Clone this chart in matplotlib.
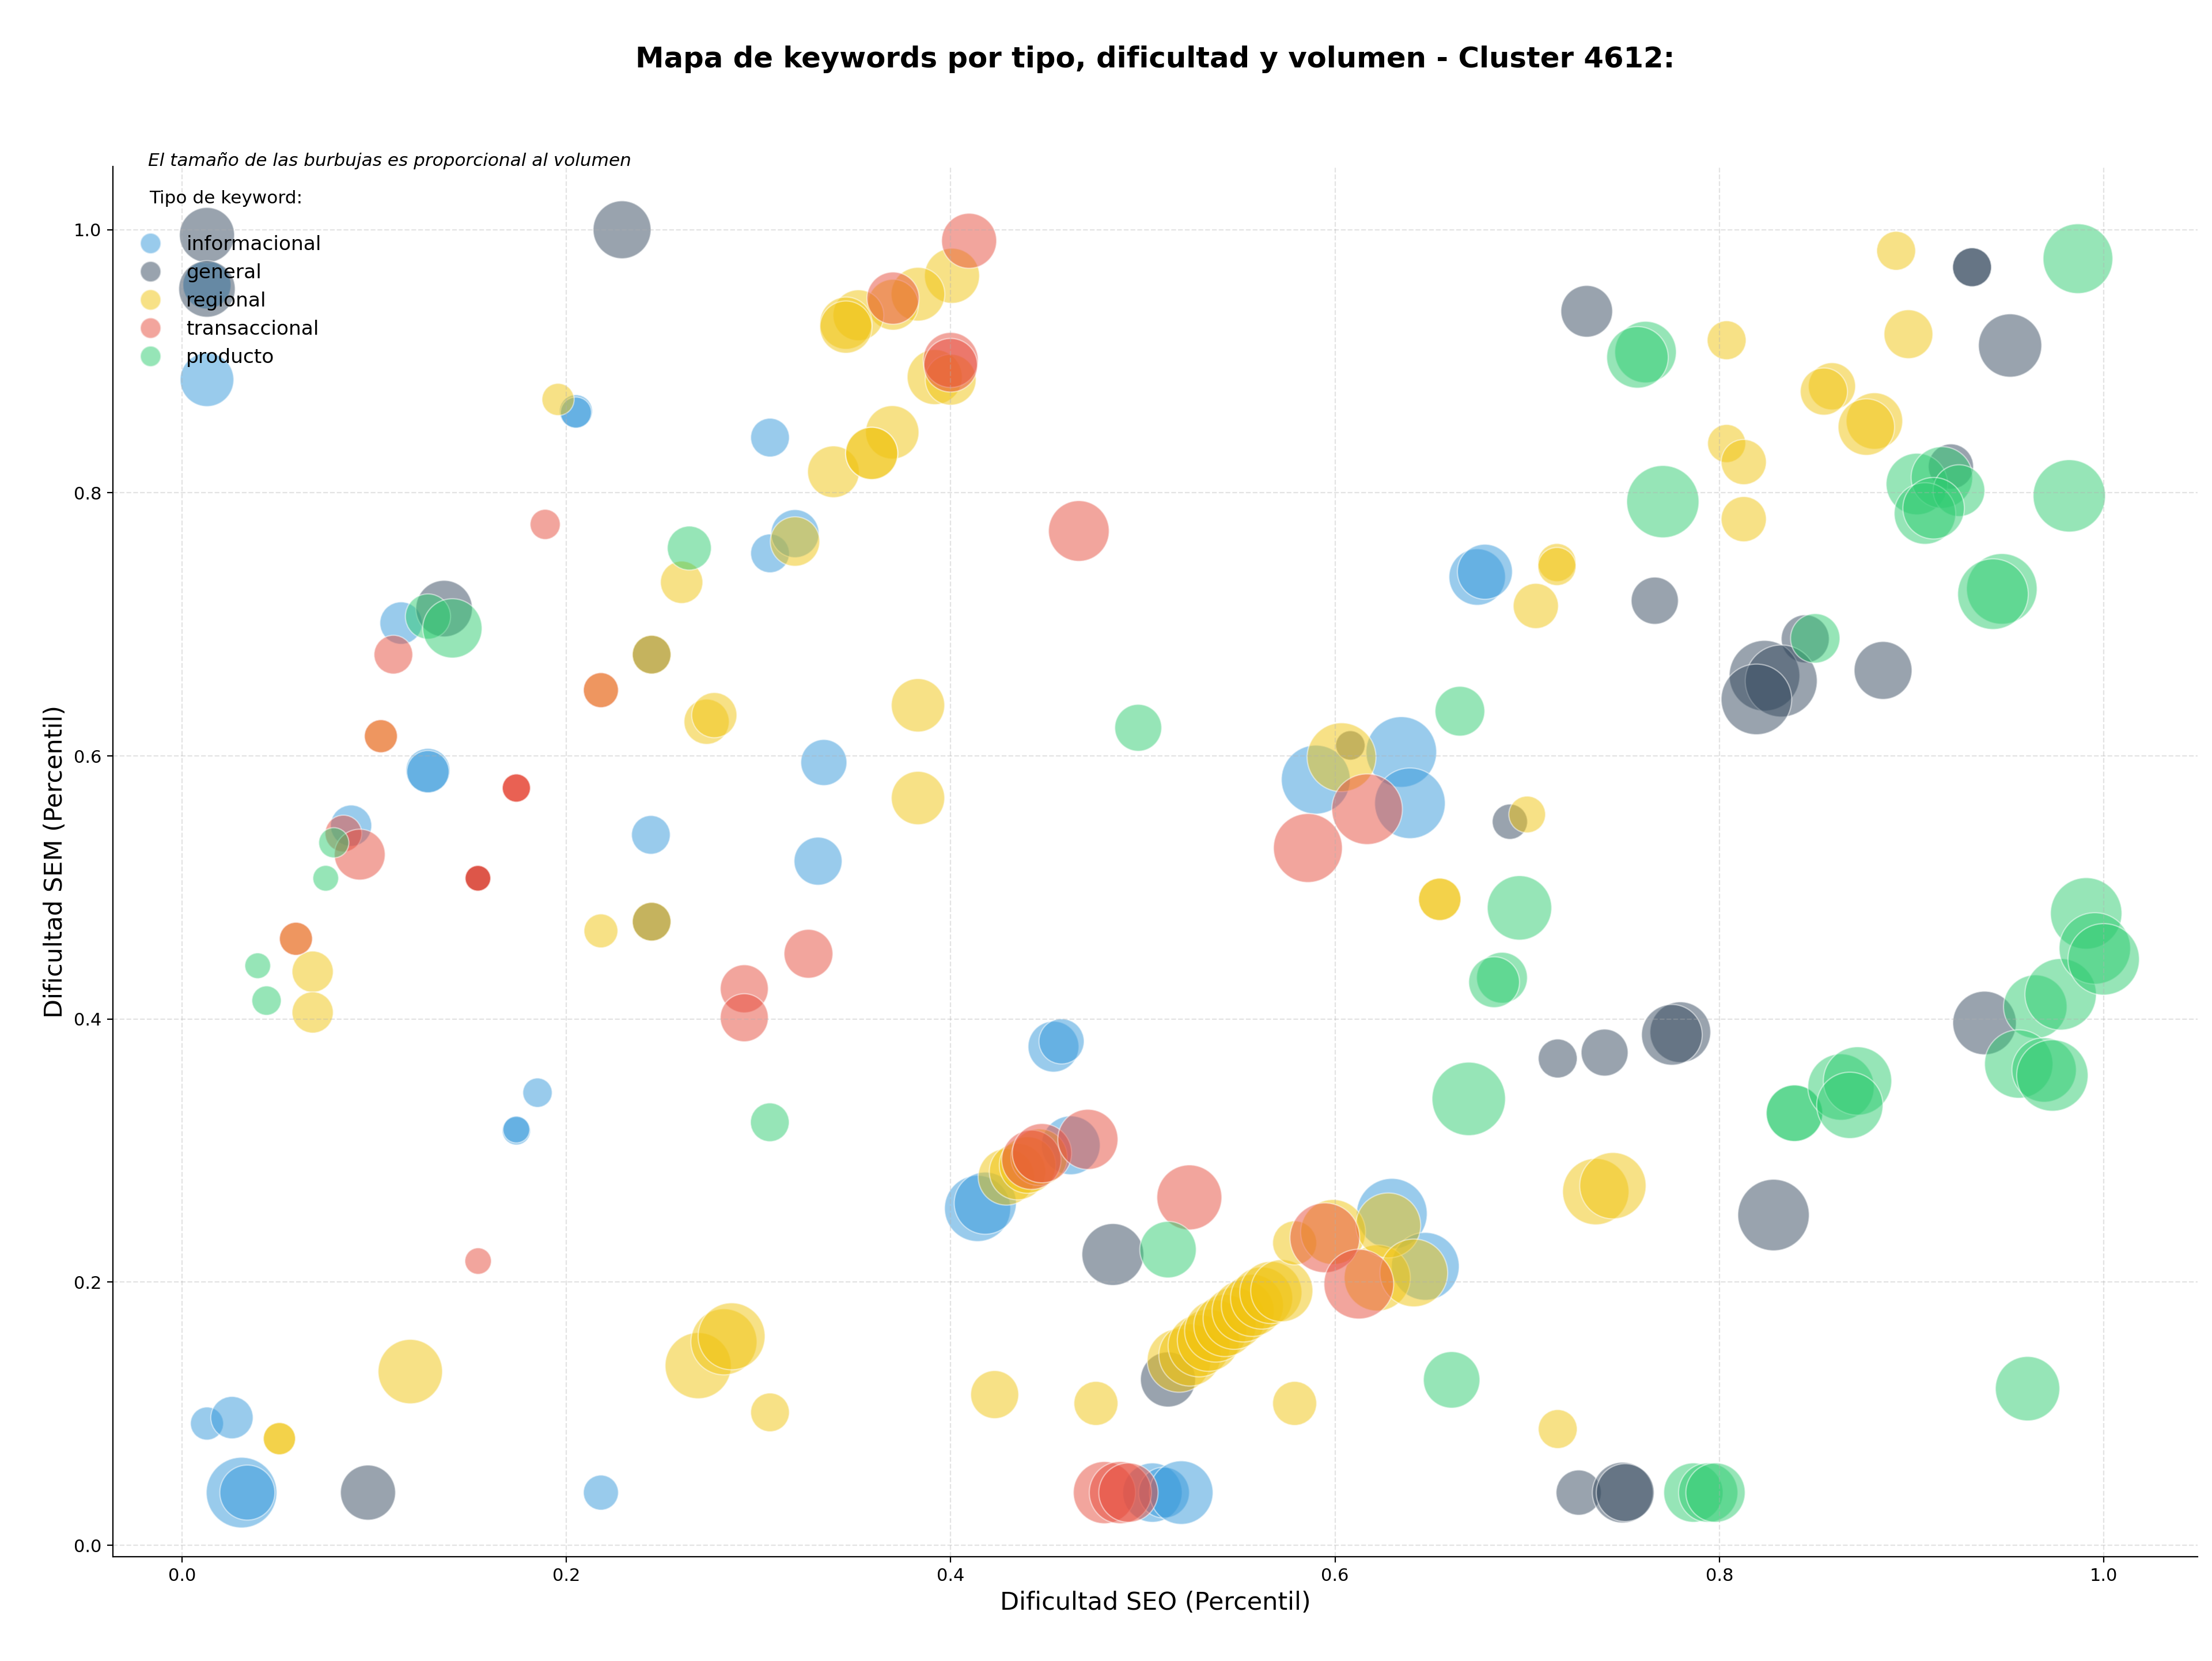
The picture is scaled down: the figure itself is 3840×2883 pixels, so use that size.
import matplotlib
matplotlib.use("Agg")
import matplotlib.pyplot as plt
from matplotlib.lines import Line2D

# tipos de keyword y colores
tipos = ["informacional", "general", "regional", "transaccional", "producto"]
colores = ["#3498db", "#34495e", "#f1c40f", "#e74c3c", "#2ecc71"]

# informacional: dificultad SEO, dificultad SEM, volumen
info_seo = [0.013, 0.013, 0.205, 0.205, 0.306, 0.306, 0.319, 0.114, 0.128, 0.128,
            0.334, 0.088, 0.244, 0.331, 0.185, 0.174, 0.174, 0.013, 0.026, 0.031,
            0.034, 0.218, 0.674, 0.678, 0.590, 0.6345, 0.639, 0.4535, 0.4577, 0.414,
            0.418, 0.4625, 0.505, 0.511, 0.520, 0.6296, 0.647]
info_sem = [0.958, 0.886, 0.862, 0.861, 0.842, 0.754, 0.769, 0.701, 0.589, 0.588,
            0.595, 0.547, 0.540, 0.520, 0.344, 0.315, 0.316, 0.0925, 0.097, 0.04,
            0.04, 0.04, 0.736, 0.740, 0.582, 0.603, 0.564, 0.379, 0.383, 0.256,
            0.260, 0.304, 0.04, 0.04, 0.04, 0.252, 0.212]
info_vol = [2890, 3610, 1370, 1210, 1880, 1880, 2890, 2250, 2430, 2250,
            2660, 2130, 1880, 2890, 1080, 1000, 900, 1370, 2250, 6250,
            3800, 1540, 4000, 3800, 5950, 6250, 6250, 3240, 2560, 5480,
            4840, 4330, 4410, 3240, 5060, 6250, 5760]

# general
gen_seo = [0.013, 0.013, 0.229, 0.1364, 0.2444, 0.2444, 0.154, 0.0968, 0.4844, 0.5131,
           0.608, 0.691, 0.731, 0.9315, 0.9315, 0.9513, 0.9205, 0.7664, 0.8447, 0.8235,
           0.8322, 0.8193, 0.8852, 0.7159, 0.7403, 0.7797, 0.7753, 0.8282, 0.938, 0.7268,
           0.7497, 0.751]
gen_sem = [0.996, 0.955, 1.0, 0.712, 0.677, 0.474, 0.507, 0.04, 0.221, 0.126,
           0.608, 0.550, 0.938, 0.9715, 0.9715, 0.912, 0.820, 0.718, 0.689, 0.661,
           0.657, 0.643, 0.665, 0.370, 0.3745, 0.390, 0.388, 0.251, 0.397, 0.04,
           0.04, 0.04]
gen_vol = [3800, 4000, 4200, 4000, 1880, 1880, 830, 3800, 4800, 3800,
           1080, 1560, 3350, 1900, 1900, 5020, 2560, 2790, 2890, 6250,
           6500, 6250, 4200, 1900, 2760, 4620, 4620, 6400, 5060, 2560,
           4620, 4200]

# regional
reg_seo = [0.1957, 0.339, 0.319, 0.260, 0.2444, 0.218, 0.273, 0.277, 0.1035, 0.218,
           0.2444, 0.0593, 0.068, 0.068, 0.1188, 0.2686, 0.282, 0.286, 0.306, 0.0507,
           0.0507, 0.4007, 0.383, 0.370, 0.352, 0.3455, 0.3455, 0.3917, 0.400, 0.3696,
           0.3589, 0.3589, 0.383, 0.383, 0.6034, 0.700, 0.7045, 0.7155, 0.7155, 0.892,
           0.8038, 0.8984, 0.8586, 0.8544, 0.8807, 0.8765, 0.8038, 0.8127, 0.8127, 0.6545,
           0.6545, 0.7357, 0.7446, 0.7159, 0.429, 0.4348, 0.440, 0.446, 0.5188, 0.5245,
           0.5293, 0.5341, 0.5379, 0.5427, 0.5475, 0.5522, 0.557, 0.5618, 0.5666, 0.5723,
           0.579, 0.599, 0.622, 0.6277, 0.641, 0.4229, 0.4756, 0.579]
reg_sem = [0.871, 0.816, 0.763, 0.732, 0.677, 0.650, 0.626, 0.631, 0.615, 0.467,
           0.474, 0.461, 0.436, 0.405, 0.132, 0.1365, 0.1546, 0.1588, 0.101, 0.081,
           0.081, 0.965, 0.951, 0.943, 0.935, 0.929, 0.926, 0.888, 0.886, 0.846,
           0.830, 0.830, 0.6385, 0.568, 0.599, 0.5555, 0.714, 0.747, 0.744, 0.984,
           0.916, 0.9206, 0.881, 0.877, 0.8546, 0.850, 0.8375, 0.8234, 0.780, 0.491,
           0.491, 0.2688, 0.2733, 0.0883, 0.280, 0.284, 0.289, 0.295, 0.1404, 0.1446,
           0.1516, 0.1558, 0.1628, 0.167, 0.1725, 0.1781, 0.1823, 0.1879, 0.1921, 0.1935,
           0.2298, 0.2381, 0.2032, 0.2431, 0.207, 0.1145, 0.1078, 0.1078]
reg_vol = [1300, 3350, 3060, 2250, 1880, 1540, 2560, 2560, 1370, 1440,
           1880, 1370, 2130, 2130, 5200, 5480, 5480, 5620, 1880, 1300,
           1300, 3800, 3610, 3240, 3240, 3420, 3420, 3800, 3240, 3570,
           3420, 3420, 3570, 3570, 5950, 1690, 2560, 1820, 1820, 1900,
           1900, 2990, 2790, 2790, 4000, 4000, 1820, 2560, 2560, 2250,
           2250, 5520, 5520, 1900, 4000, 4000, 4000, 4000, 5060, 4840,
           4840, 4840, 4840, 4840, 4840, 4840, 4840, 4840, 4840, 4840,
           2430, 5290, 5480, 5290, 5760, 2890, 2430, 2430]

# transaccional
tra_seo = [0.189, 0.110, 0.218, 0.1035, 0.174, 0.174, 0.174, 0.084, 0.0925, 0.154,
           0.154, 0.154, 0.0593, 0.326, 0.2926, 0.2926, 0.1541, 0.4096, 0.370, 0.400,
           0.400, 0.4667, 0.6167, 0.5859, 0.442, 0.4475, 0.4714, 0.5242, 0.5947, 0.6124,
           0.480, 0.4883, 0.4925]
tra_sem = [0.776, 0.677, 0.650, 0.615, 0.5756, 0.5756, 0.5756, 0.541, 0.525, 0.507,
           0.507, 0.507, 0.461, 0.4496, 0.423, 0.401, 0.216, 0.9916, 0.948, 0.901,
           0.897, 0.771, 0.5595, 0.530, 0.293, 0.298, 0.3085, 0.2644, 0.2337, 0.1985,
           0.04, 0.04, 0.04]
tra_vol = [1140, 1880, 1540, 1370, 1000, 1000, 1000, 1690, 3240, 830,
           830, 830, 1370, 2990, 2890, 2890, 880, 3800, 3420, 3800,
           3610, 4620, 6250, 5950, 4410, 4410, 4540, 5290, 6100, 6100,
           4840, 4840, 4410]

# producto
pro_seo = [0.264, 0.128, 0.1407, 0.079, 0.0748, 0.0394, 0.044, 0.3059, 0.4976, 0.665,
           0.5131, 0.9866, 0.7616, 0.7574, 0.7706, 0.9028, 0.9158, 0.9247, 0.907, 0.9115,
           0.9821, 0.947, 0.9424, 0.8499, 0.696, 0.6869, 0.6828, 0.6696, 0.8391, 0.8391,
           0.8633, 0.8719, 0.8679, 0.9644, 0.9776, 0.9909, 0.9954, 1.0, 0.9558, 0.969,
           0.9733, 0.6607, 0.9604, 0.7865, 0.7942, 0.798]
pro_sem = [0.758, 0.706, 0.697, 0.534, 0.507, 0.4405, 0.414, 0.3215, 0.6214, 0.634,
           0.2247, 0.978, 0.907, 0.903, 0.7933, 0.8067, 0.8117, 0.8017, 0.7843, 0.7883,
           0.7977, 0.727, 0.723, 0.6894, 0.4845, 0.4314, 0.428, 0.3393, 0.3284, 0.3284,
           0.3483, 0.3529, 0.3344, 0.4094, 0.4188, 0.4803, 0.4537, 0.4454, 0.3658, 0.3613,
           0.3571, 0.1257, 0.119, 0.04, 0.04, 0.04]
pro_vol = [2430, 2560, 4410, 1140, 830, 830, 1080, 1880, 2760, 3100,
           4000, 6100, 4750, 4750, 6550, 4750, 4750, 3350, 4750, 4750,
           6550, 6250, 6250, 3060, 5200, 3240, 3240, 6760, 4000, 4000,
           5520, 5860, 5520, 5060, 6400, 6400, 6400, 6400, 5860, 5200,
           6400, 4000, 5200, 4410, 4410, 4410]

series = [
    (info_seo, info_sem, info_vol),
    (gen_seo, gen_sem, gen_vol),
    (reg_seo, reg_sem, reg_vol),
    (tra_seo, tra_sem, tra_vol),
    (pro_seo, pro_sem, pro_vol),
]

fig = plt.figure(figsize=(19.2, 14.415), dpi=200)
ax = fig.add_axes([0.051, 0.0629, 0.9426, 0.8368])

escala = 0.311  # volumen -> area del marcador
for (sx, sy, vol), color, tipo in zip(series, colores, tipos):
    ax.scatter(sx, sy, s=[v * escala for v in vol], c=color, alpha=0.5,
               edgecolors="white", linewidths=0.8, label=tipo)

ax.set_xlim(-0.036, 1.049)
ax.set_ylim(-0.0086, 1.048)
ax.set_xticks([0.0, 0.2, 0.4, 0.6, 0.8, 1.0])
ax.set_yticks([0.0, 0.2, 0.4, 0.6, 0.8, 1.0])
ax.tick_params(labelsize=11)
ax.grid(True, linestyle="--", alpha=0.35)
ax.spines["top"].set_visible(False)
ax.spines["right"].set_visible(False)

ax.set_xlabel("Dificultad SEO (Percentil)", fontsize=15.5)
ax.set_ylabel("Dificultad SEM (Percentil)", fontsize=15.5)

fig.text(0.5223, 0.9643, "Mapa de keywords por tipo, dificultad y volumen - Cluster 4612:",
         ha="center", va="center", fontsize=17.9, fontweight="bold")
ax.text(0.0169, 1.0041, "El tamaño de las burbujas es proporcional al volumen",
        transform=ax.transAxes, ha="left", va="center", fontsize=11.2, style="italic")

handles = [Line2D([0], [0], marker="o", linestyle="", markersize=12.9,
                  markerfacecolor=c, markeredgecolor="white", alpha=0.5)
           for c in colores]
leg = ax.legend(handles, tipos, loc="upper left", bbox_to_anchor=(0.0, 0.996),
                fontsize=12.4, frameon=False, title="Tipo de keyword:\n",
                title_fontsize=11.2, labelspacing=0.46)

fig.savefig("out.png", dpi=200)
